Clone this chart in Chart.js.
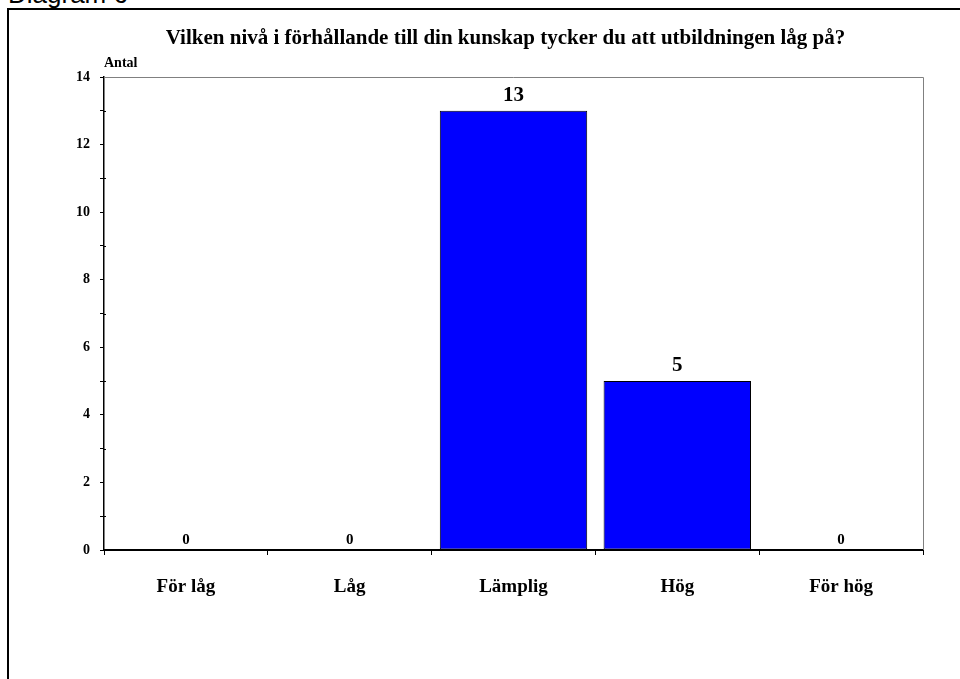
<!DOCTYPE html>
<html>
<head>
<meta charset="utf-8">
<script src="https://cdn.jsdelivr.net/npm/chart.js@4.4.1/dist/chart.umd.min.js"></script>
<style>
  html, body { margin: 0; padding: 0; background: #fff; overflow: hidden; }
  body { width: 960px; height: 679px; position: relative; }
  #caption { position: absolute; left: 8px; top: -19px; font: 26px/26px "Liberation Sans", Arial, sans-serif; color: #000; white-space: nowrap; }
  #frame { position: absolute; left: 7px; top: 8px; width: 1200px; height: 1200px; border: 2px solid #000; box-sizing: border-box; }
  #wrap { position: absolute; left: 0; top: 0; width: 960px; height: 679px; }
</style>
</head>
<body>
<div id="caption">Diagram 6</div>
<div id="frame"></div>
<div id="wrap"><canvas id="c"></canvas></div>
<script>
const categories = ["För låg", "Låg", "Lämplig", "Hög", "För hög"];
const counts = [0, 0, 13, 5, 0];
const yTicks = [0, 2, 4, 6, 8, 10, 12, 14];
const chartTitle = "Vilken nivå i förhållande till din kunskap tycker du att utbildningen låg på?";
const yAxisTitle = "Antal";

const SERIF = '"Liberation Serif", "Times New Roman", serif';

const overlay = {
  id: 'overlay',
  afterDraw(chart) {
    const ctx = chart.ctx;
    const a = chart.chartArea;
    ctx.save();
    // plot area top and right border (gray)
    ctx.strokeStyle = '#808080';
    ctx.lineWidth = 1;
    ctx.beginPath();
    ctx.moveTo(a.left, a.top + 0.5);
    ctx.lineTo(a.right + 0.5, a.top + 0.5);
    ctx.lineTo(a.right + 0.5, a.bottom);
    ctx.stroke();
    // minor ticks crossing into the plot
    const ys = chart.scales.y;
    ctx.strokeStyle = '#000';
    ys.ticks.forEach(t => {
      if (!yTicks.includes(t.value)) {
        const py = Math.round(ys.getPixelForValue(t.value)) + 0.5;
        ctx.beginPath();
        ctx.moveTo(a.left, py);
        ctx.lineTo(a.left + 2, py);
        ctx.stroke();
      }
    });
    // title
    ctx.fillStyle = '#000';
    ctx.font = 'bold 21px ' + SERIF;
    ctx.textAlign = 'center';
    ctx.textBaseline = 'alphabetic';
    ctx.fillText(chartTitle, (a.left + a.right) / 2 - 8, 44);
    // y axis title
    ctx.font = 'bold 14px ' + SERIF;
    ctx.textAlign = 'left';
    ctx.fillText(yAxisTitle, a.left, 67);
    // value labels
    const meta = chart.getDatasetMeta(0);
    meta.data.forEach((bar, i) => {
      const v = counts[i];
      ctx.font = (v === 0 ? 'bold 15px ' : 'bold 21px ') + SERIF;
      ctx.textAlign = 'center';
      ctx.textBaseline = 'alphabetic';
      ctx.fillText(String(v), bar.x, bar.y - (v === 0 ? 6 : 10));
    });
    ctx.restore();
  }
};

new Chart(document.getElementById('c'), {
  type: 'bar',
  data: {
    labels: categories,
    datasets: [{
      data: counts,
      backgroundColor: '#0000FF',
      borderColor: '#000',
      borderWidth: 1,
      borderSkipped: false,
      categoryPercentage: 1,
      barPercentage: 0.9
    }]
  },
  options: {
    responsive: true,
    maintainAspectRatio: false,
    animation: false,
    devicePixelRatio: 1,
    layout: { padding: { left: 0, right: 37, top: 77, bottom: 0 } },
    plugins: { legend: { display: false }, title: { display: false }, tooltip: { enabled: false } },
    scales: {
      x: {
        grid: { display: true, drawOnChartArea: false, drawTicks: true, tickLength: 5, color: '#000', offset: true },
        border: { display: true, color: '#000', width: 2 },
        ticks: { color: '#000', font: { family: SERIF, size: 19, weight: 'bold' }, padding: 21, maxRotation: 0 },
        afterFit(scale) { scale.height = 129; }
      },
      y: {
        min: 0, max: 14,
        grid: { display: true, drawOnChartArea: false, drawTicks: true, tickLength: 4, color: '#000' },
        border: { display: true, color: '#000', width: 1.5 },
        ticks: {
          stepSize: 1,
          color: '#000',
          font: { family: SERIF, size: 14, weight: 'bold' },
          padding: 10,
          callback: (v) => yTicks.includes(v) ? String(v) : ''
        },
        afterFit(scale) { scale.width = 104; }
      }
    }
  },
  plugins: [overlay]
});
</script>
</body>
</html>
